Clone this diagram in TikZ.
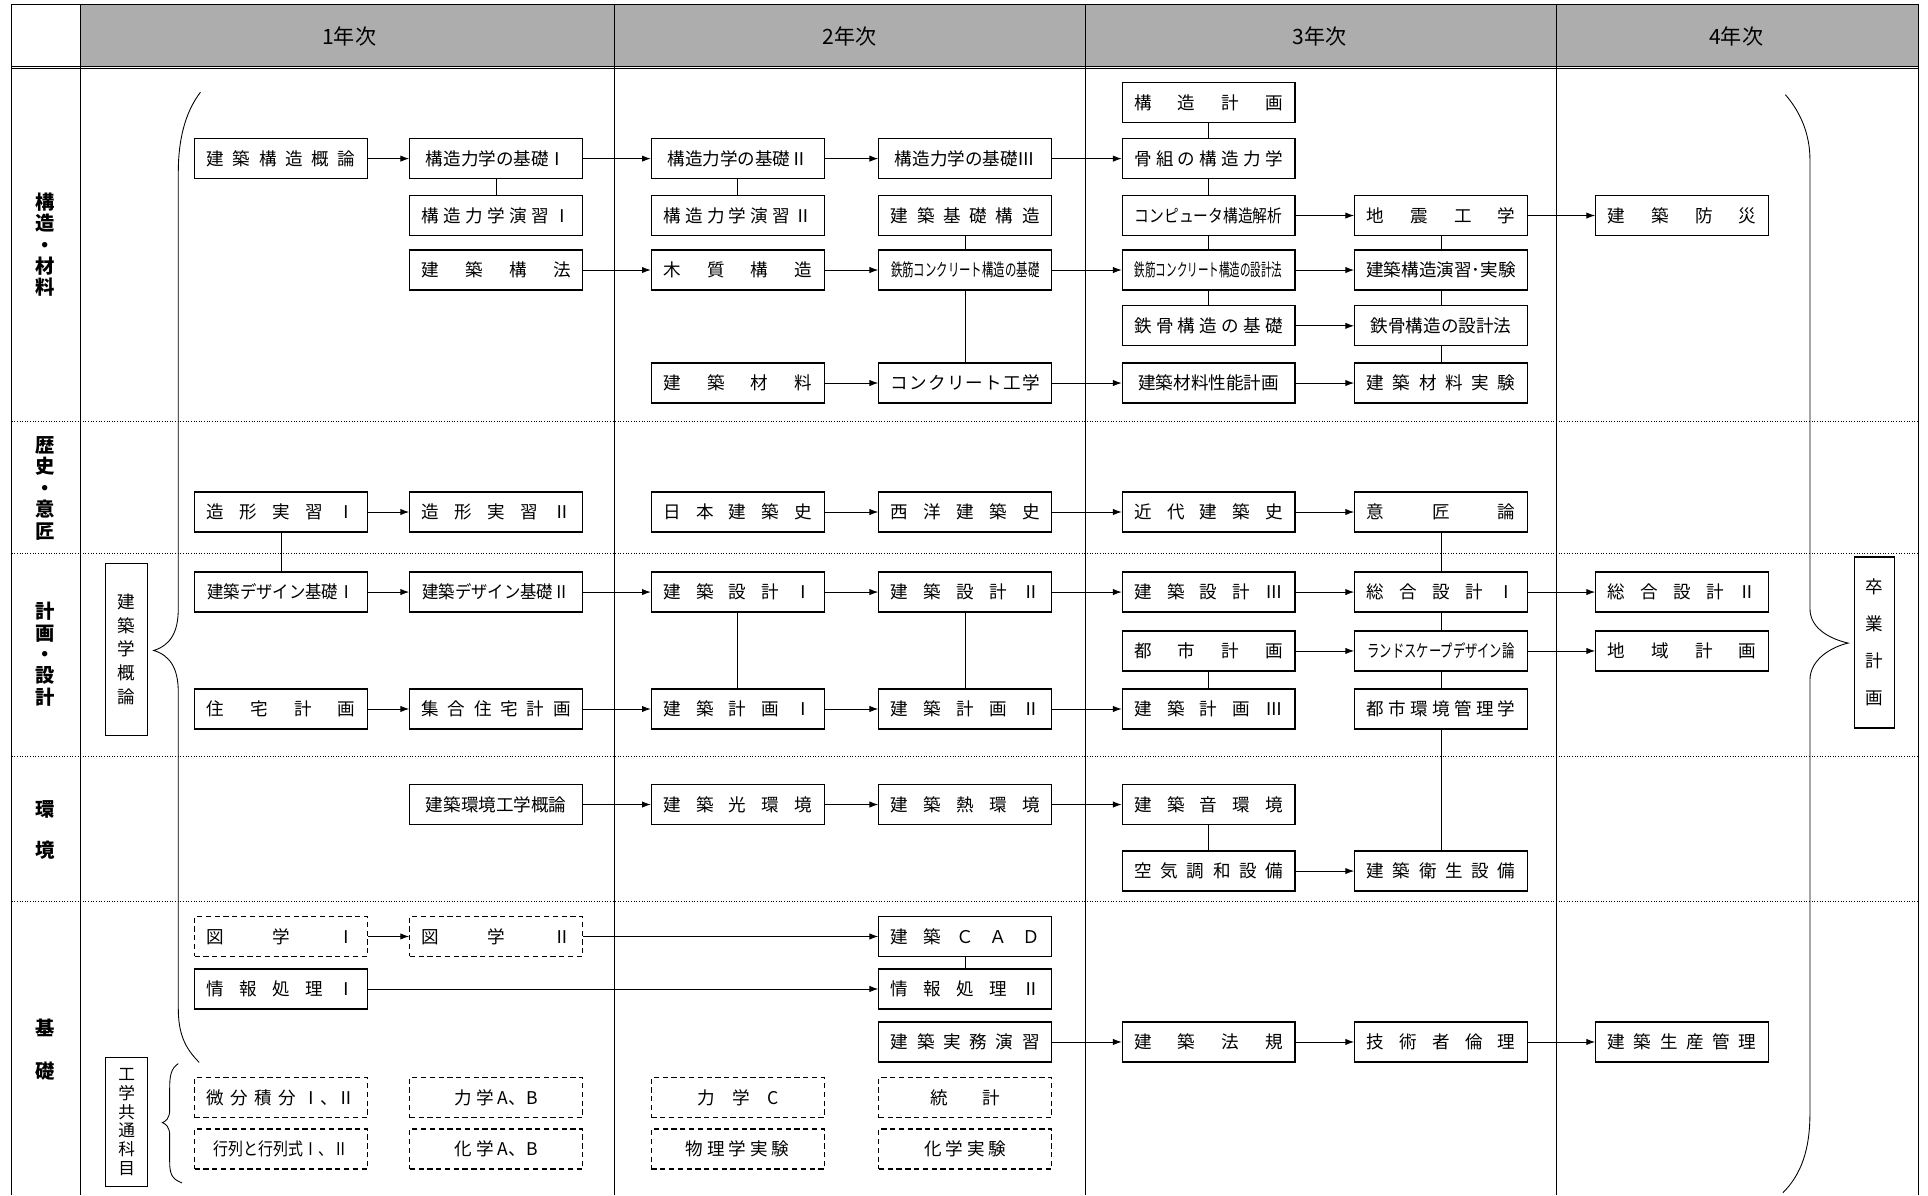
\documentclass[tikz,border=0pt]{standalone}
\usepackage{fontspec}
\setmainfont{Noto Sans CJK JP}
\usetikzlibrary{arrows.meta}

\newcommand{\spread}[1]{\makebox[2.98cm][s]{#1}}
\newcommand{\squeeze}[2]{\scalebox{#1}[1]{#2}}

\begin{document}
\begin{tikzpicture}[x=0.024592cm,y=-0.024592cm,
  >={Latex[length=5pt,width=3.6pt]},
  box/.style={draw, line width=0.7pt, minimum width=3.455cm, minimum height=0.8cm, inner sep=0pt, font=\fontsize{10}{12}\selectfont},
  dbox/.style={box, dash pattern=on 3pt off 2pt},
  vbox/.style={draw, line width=0.7pt, inner sep=0pt, align=center},
  sep/.style={densely dotted, line width=0.6pt},
  every path/.style={line width=0.5pt}]

\useasboundingbox (0,0) rectangle (1568,972);

% header and frame
\fill[black!32] (65.6,3.3) rectangle (1560,54);
\draw (9.5,3.3) -- (1560,3.3);
\draw (9.5,54) -- (1560,54);
\draw (9.5,55.5) -- (1560,55.5);
\foreach \x in {9.5,65.6,500,882.4,1266,1560} \draw (\x,3.3) -- (\x,972);
\foreach \y in {343,450,615.5,733.3} \draw[sep] (9.5,\y) -- (1560,\y);

\node[font=\fontsize{12}{14}\selectfont] (y1) at (284,30) {1年次};
\node[font=\fontsize{12}{14}\selectfont] (y2) at (691,30) {2年次};
\node[font=\fontsize{12}{14}\selectfont] (y3) at (1073,30) {3年次};
\node[font=\fontsize{12}{14}\selectfont] (y4) at (1412,30) {4年次};

% row labels
\node[align=center, font=\fontsize{11}{12.2}\selectfont\bfseries] (kozo) at (37,199) {構\\造\\・\\材\\料};
\node[align=center, font=\fontsize{11}{12.2}\selectfont\bfseries] (rekishi) at (37,397) {歴\\史\\・\\意\\匠};
\node[align=center, font=\fontsize{11}{12.2}\selectfont\bfseries] (keikaku) at (37,532) {計\\画\\・\\設\\計};
\node[align=center, font=\fontsize{11}{23}\selectfont\bfseries] (kankyolbl) at (37,675) {環\\境};
\node[align=center, font=\fontsize{11}{24.4}\selectfont\bfseries] (kisolbl) at (37,854) {基\\礎};

% side boxes and braces
\node[vbox, minimum width=0.836cm, minimum height=3.44cm, font=\fontsize{10}{13.5}\selectfont] (gakugairon) at (103,528) {建\\築\\学\\概\\論};
\node[vbox, minimum width=0.81cm, minimum height=3.42cm, font=\fontsize{10}{21}\selectfont] (sotsugyo) at (1524.5,522.5) {卒\\業\\計\\画};
\node[vbox, minimum width=0.836cm, minimum height=2.58cm, font=\fontsize{9.5}{10.6}\selectfont] (kyotsu) at (103,912.5) {工\\学\\共\\通\\科\\目};

\draw (163,75) .. controls (150,92) and (145,115) .. (145,140) -- (145,495)
  .. controls (145,515) and (138,525) .. (125,529)
  .. controls (138,533) and (145,543) .. (145,563) -- (145,820)
  .. controls (145,840) and (150,852) .. (162,864);
\draw (1452,77) .. controls (1465,92) and (1472,110) .. (1472,130) -- (1472,495)
  .. controls (1472,512) and (1490,520) .. (1503,523)
  .. controls (1490,526) and (1472,536) .. (1472,553) -- (1472,905)
  .. controls (1472,935) and (1465,955) .. (1450,970);
\draw (145,865) .. controls (139,869) and (138,875) .. (138,885) -- (138,903)
  .. controls (138,909) and (135,912) .. (132,913)
  .. controls (135,914) and (138,917) .. (138,923) -- (138,945)
  .. controls (138,955) and (140,959) .. (148,962);

% 構造・材料
\node[box] (kozokeikaku) at (983,83.5) {\spread{構 造 計 画}};
\node[box] (gairon) at (228.5,129) {\spread{建 築 構 造 概 論}};
\node[box] (kiso1) at (403.5,129) {構造力学の基礎Ⅰ};
\node[box] (kiso2) at (600,129) {構造力学の基礎Ⅱ};
\node[box] (kiso3) at (785,129) {構造力学の基礎Ⅲ};
\node[box] (honegumi) at (983,129) {\spread{骨 組 の 構 造 力 学}};
\node[box] (ensyu1) at (403.5,175.3) {\spread{構 造 力 学 演 習 Ⅰ}};
\node[box] (ensyu2) at (600,175.3) {\spread{構 造 力 学 演 習 Ⅱ}};
\node[box] (kisokozo) at (785,175.3) {\spread{建 築 基 礎 構 造}};
\node[box] (computer) at (983,175.3) {\squeeze{0.84}{コンピュータ構造解析}};
\node[box] (jishin) at (1172,175.3) {\spread{地 震 工 学}};
\node[box] (bosai) at (1368,175.3) {\spread{建 築 防 災}};
\node[box] (koho) at (403.5,219.6) {\spread{建 築 構 法}};
\node[box] (mokushitsu) at (600,219.6) {\spread{木 質 構 造}};
\node[box] (rckiso) at (785,219.6) {\squeeze{0.65}{鉄筋コンクリート構造の基礎}};
\node[box] (rcsekkei) at (983,219.6) {\squeeze{0.6}{鉄筋コンクリート構造の設計法}};
\node[box] (jikken) at (1172,219.6) {建築構造演習･実験};
\node[box] (sckiso) at (983,265) {\spread{鉄 骨 構 造 の 基 礎}};
\node[box] (scsekkei) at (1172,265) {鉄骨構造の設計法};
\node[box] (zairyo) at (600,311.5) {\spread{建 築 材 料}};
\node[box] (concrete) at (785,311.5) {\spread{コ\hfil ン\hfil ク\hfil リ\hfil ー\hfil ト\hfil 工\hfil 学}};
\node[box] (seino) at (983,311.5) {建築材料性能計画};
\node[box] (zjikken) at (1172,311.5) {\spread{建 築 材 料 実 験}};

% 歴史・意匠
\node[box] (zokei1) at (228.5,416.4) {\spread{造 形 実 習 Ⅰ}};
\node[box] (zokei2) at (403.5,416.4) {\spread{造 形 実 習 Ⅱ}};
\node[box] (nihon) at (600,416.4) {\spread{日 本 建 築 史}};
\node[box] (seiyo) at (785,416.4) {\spread{西 洋 建 築 史}};
\node[box] (kindai) at (983,416.4) {\spread{近 代 建 築 史}};
\node[box] (isho) at (1172,416.4) {\spread{意 匠 論}};

% 計画・設計
\node[box] (design1) at (228.5,481.5) {\squeeze{0.93}{建築デザイン基礎Ⅰ}};
\node[box] (design2) at (403.5,481.5) {\squeeze{0.93}{建築デザイン基礎Ⅱ}};
\node[box] (sekkei1) at (600,481.5) {\spread{建 築 設 計 Ⅰ}};
\node[box] (sekkei2) at (785,481.5) {\spread{建 築 設 計 Ⅱ}};
\node[box] (sekkei3) at (983,481.5) {\spread{建 築 設 計 Ⅲ}};
\node[box] (sogo1) at (1172,481.5) {\spread{総 合 設 計 Ⅰ}};
\node[box] (sogo2) at (1368,481.5) {\spread{総 合 設 計 Ⅱ}};
\node[box] (toshi) at (983,529.4) {\spread{都 市 計 画}};
\node[box] (landscape) at (1172,529.4) {\squeeze{0.7}{ランドスケープデザイン論}};
\node[box] (chiiki) at (1368,529.4) {\spread{地 域 計 画}};
\node[box] (jutaku) at (228.5,576.6) {\spread{住 宅 計 画}};
\node[box] (shugo) at (403.5,576.6) {\spread{集 合 住 宅 計 画}};
\node[box] (keikaku1) at (600,576.6) {\spread{建 築 計 画 Ⅰ}};
\node[box] (keikaku2) at (785,576.6) {\spread{建 築 計 画 Ⅱ}};
\node[box] (keikaku3) at (983,576.6) {\spread{建 築 計 画 Ⅲ}};
\node[box] (toshikankyo) at (1172,576.6) {\spread{都 市 環 境 管 理 学}};

% 環境
\node[box] (kgairon) at (403.5,654.3) {建築環境工学概論};
\node[box] (hikari) at (600,654.3) {\spread{建 築 光 環 境}};
\node[box] (netsu) at (785,654.3) {\spread{建 築 熱 環 境}};
\node[box] (oto) at (983,654.3) {\spread{建 築 音 環 境}};
\node[box] (kucho) at (983,708.4) {\spread{空 気 調 和 設 備}};
\node[box] (eisei) at (1172,708.4) {\spread{建 築 衛 生 設 備}};

% 基礎
\node[dbox] (zugaku1) at (228.5,761.6) {\spread{図 学 Ⅰ}};
\node[dbox] (zugaku2) at (403.5,761.6) {\spread{図 学 Ⅱ}};
\node[box] (cad) at (785,761.6) {\spread{建 築 Ｃ Ａ Ｄ}};
\node[box] (joho1) at (228.5,804.3) {\spread{情 報 処 理 Ⅰ}};
\node[box] (joho2) at (785,804.3) {\spread{情 報 処 理 Ⅱ}};
\node[box] (jitsumu) at (785,847.4) {\spread{建 築 実 務 演 習}};
\node[box] (hoki) at (983,847.4) {\spread{建 築 法 規}};
\node[box] (rinri) at (1172,847.4) {\spread{技 術 者 倫 理}};
\node[box] (seisan) at (1368,847.4) {\spread{建 築 生 産 管 理}};
\node[dbox] (bibun) at (228.5,892.6) {\spread{微 分 積 分 Ⅰ、Ⅱ}};
\node[dbox] (rikigakuAB) at (403.5,892.6) {力 学 A、B};
\node[dbox] (rikigakuC) at (600,892.6) {力\quad 学\quad C};
\node[dbox] (tokei) at (785,892.6) {統\qquad 計};
\node[dbox] (gyoretsu) at (228.5,934.5) {\squeeze{0.85}{行列と行列式Ⅰ、Ⅱ}};
\node[dbox] (kagakuAB) at (403.5,934.5) {化 学 A、B};
\node[dbox] (butsuri) at (600,934.5) {物 理 学 実 験};
\node[dbox] (kagakujikken) at (785,934.5) {化 学 実 験};

% connectors
\draw[->] (gairon) -- (kiso1);
\draw[->] (kiso1) -- (kiso2);
\draw[->] (kiso2) -- (kiso3);
\draw[->] (kiso3) -- (honegumi);
\draw (kiso1) -- (ensyu1);
\draw (kiso2) -- (ensyu2);
\draw (kozokeikaku) -- (honegumi);
\draw (honegumi) -- (computer);
\draw (computer) -- (rcsekkei);
\draw (rcsekkei) -- (sckiso);
\draw[->] (computer) -- (jishin);
\draw[->] (jishin) -- (bosai);
\draw (jishin) -- (jikken);
\draw (jikken) -- (scsekkei);
\draw (scsekkei) -- (zjikken);
\draw (kisokozo) -- (rckiso);
\draw (rckiso) -- (concrete);
\draw[->] (koho) -- (mokushitsu);
\draw[->] (mokushitsu) -- (rckiso);
\draw[->] (rckiso) -- (rcsekkei);
\draw[->] (rcsekkei) -- (jikken);
\draw[->] (sckiso) -- (scsekkei);
\draw[->] (zairyo) -- (concrete);
\draw[->] (concrete) -- (seino);
\draw[->] (seino) -- (zjikken);

\draw[->] (zokei1) -- (zokei2);
\draw[->] (nihon) -- (seiyo);
\draw[->] (seiyo) -- (kindai);
\draw[->] (kindai) -- (isho);
\draw (zokei1) -- (design1);
\draw (isho) -- (sogo1);

\draw[->] (design1) -- (design2);
\draw[->] (design2) -- (sekkei1);
\draw[->] (sekkei1) -- (sekkei2);
\draw[->] (sekkei2) -- (sekkei3);
\draw[->] (sekkei3) -- (sogo1);
\draw[->] (sogo1) -- (sogo2);
\draw (sekkei1) -- (keikaku1);
\draw (sekkei2) -- (keikaku2);
\draw (sogo1) -- (landscape);
\draw (landscape) -- (toshikankyo);
\draw (toshikankyo) -- (eisei);
\draw[->] (toshi) -- (landscape);
\draw[->] (landscape) -- (chiiki);
\draw (toshi) -- (keikaku3);
\draw[->] (jutaku) -- (shugo);
\draw[->] (shugo) -- (keikaku1);
\draw[->] (keikaku1) -- (keikaku2);
\draw[->] (keikaku2) -- (keikaku3);

\draw[->] (kgairon) -- (hikari);
\draw[->] (hikari) -- (netsu);
\draw[->] (netsu) -- (oto);
\draw (oto) -- (kucho);
\draw[->] (kucho) -- (eisei);

\draw[->] (zugaku1) -- (zugaku2);
\draw[->] (zugaku2) -- (cad);
\draw (cad) -- (joho2);
\draw[->] (joho1) -- (joho2);
\draw[->] (jitsumu) -- (hoki);
\draw[->] (hoki) -- (rinri);
\draw[->] (rinri) -- (seisan);
\end{tikzpicture}
\end{document}
